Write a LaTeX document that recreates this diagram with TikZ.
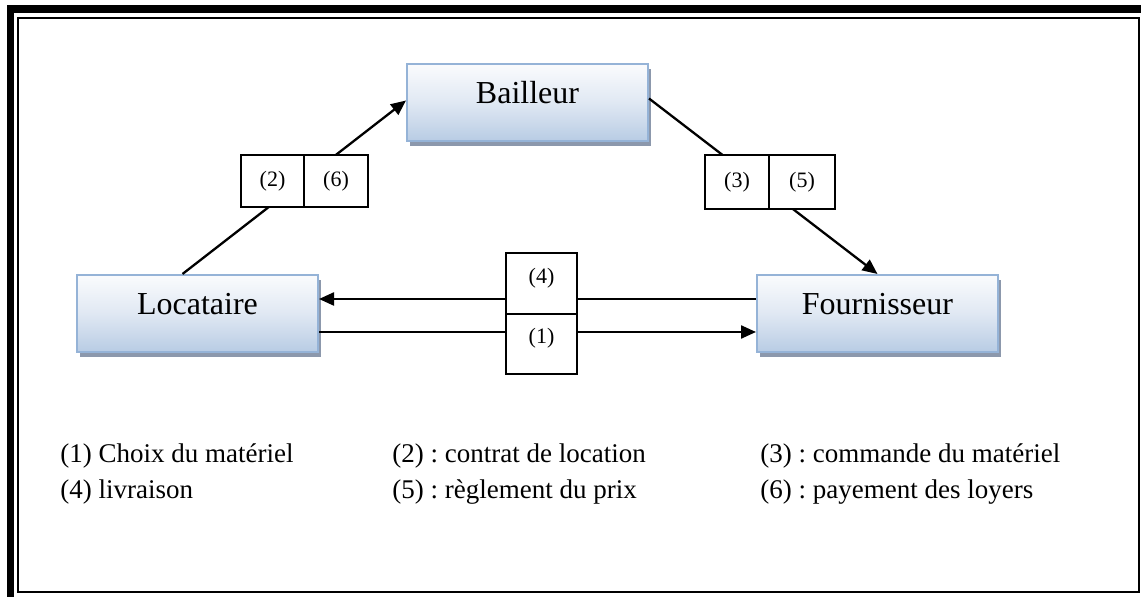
\documentclass[tikz,border=0pt]{standalone}
\usepackage{fontspec}
\setmainfont{Liberation Serif}
\usetikzlibrary{arrows.meta,shadows}
\definecolor{boxtop}{RGB}{250,251,253}
\definecolor{boxmid}{RGB}{224,232,243}
\definecolor{boxbot}{RGB}{184,204,228}
\definecolor{boxline}{RGB}{149,179,215}
\definecolor{boxshadow}{RGB}{140,152,172}
\frenchspacing
\begin{document}
\begin{tikzpicture}[x=0.5pt,y=-0.5pt,
  entity/.style={rectangle, draw=boxline, line width=1pt,
    top color=boxtop, bottom color=boxbot, middle color=boxmid,
    minimum width=120.5pt, minimum height=38.5pt, inner sep=0pt,
    font=\fontsize{16}{19}\selectfont, text height=9pt, text depth=7.5pt,
    drop shadow={shadow xshift=1.5pt, shadow yshift=-2.5pt, fill=boxshadow, opacity=1}},
  cell/.style={rectangle, draw=black, line width=1pt, fill=white, inner sep=0pt,
    font=\fontsize{11}{13}\selectfont},
  arr/.style={line width=1.15pt, -{Triangle[length=7.5pt,width=6.5pt]}},
  legend/.style={anchor=base west, inner sep=0pt, font=\fontsize{13.5}{16}\selectfont}]
\useasboundingbox (0,0) rectangle (1141,597);
% frame
\fill[black] (7,5) rectangle (1141,13);
\fill[black] (7,5) rectangle (14,597);
\draw[line width=1pt] (18,18) rectangle (1139,592);
% entities
\node[entity] (bail) at (527.5,102.5) {Bailleur};
\node[entity] (loc) at (197.5,313.5) {Locataire};
\node[entity] (four) at (877.5,313.5) {Fournisseur};
% connectors
\draw[arr] ([xshift=-7.5pt]loc.north) -- ([yshift=1pt]bail.west);
\draw[arr] ([yshift=2pt]bail.east) -- (four.north);
\draw[arr] ([yshift=7.25pt]four.west) -- ([yshift=7.25pt]loc.east);
\draw[arr] ([yshift=-9.25pt]loc.east) -- ([yshift=-9.25pt]four.west);
% label cells
\node[cell, minimum width=31.5pt, minimum height=26pt] (c2) at (272.5,181) {(2)};
\node[cell, minimum width=32pt, minimum height=26pt] (c6) at (336,181) {(6)};
\node[cell, minimum width=32pt, minimum height=27pt] (c3) at (737,182) {(3)};
\node[cell, minimum width=33pt, minimum height=27pt] (c5) at (802,182) {(5)};
\node[cell, minimum width=35.5pt, minimum height=30.5pt, text height=6pt, text depth=6pt] (c4) at (541.5,283.5) {(4)};
\node[cell, minimum width=35.5pt, minimum height=30pt, text height=6pt, text depth=6pt] (c1) at (541.5,344) {(1)};
% legend
\node[legend] (l1) at (60,463) {(1) Choix du matériel};
\node[legend] (l2) at (392,463) {(2) : contrat de location};
\node[legend] (l3) at (760,463) {(3) : commande du matériel};
\node[legend] (l4) at (60,499) {(4) livraison};
\node[legend] (l5) at (392,499) {(5) : règlement du prix};
\node[legend] (l6) at (760,499) {(6) : payement des loyers};
\end{tikzpicture}
\end{document}
